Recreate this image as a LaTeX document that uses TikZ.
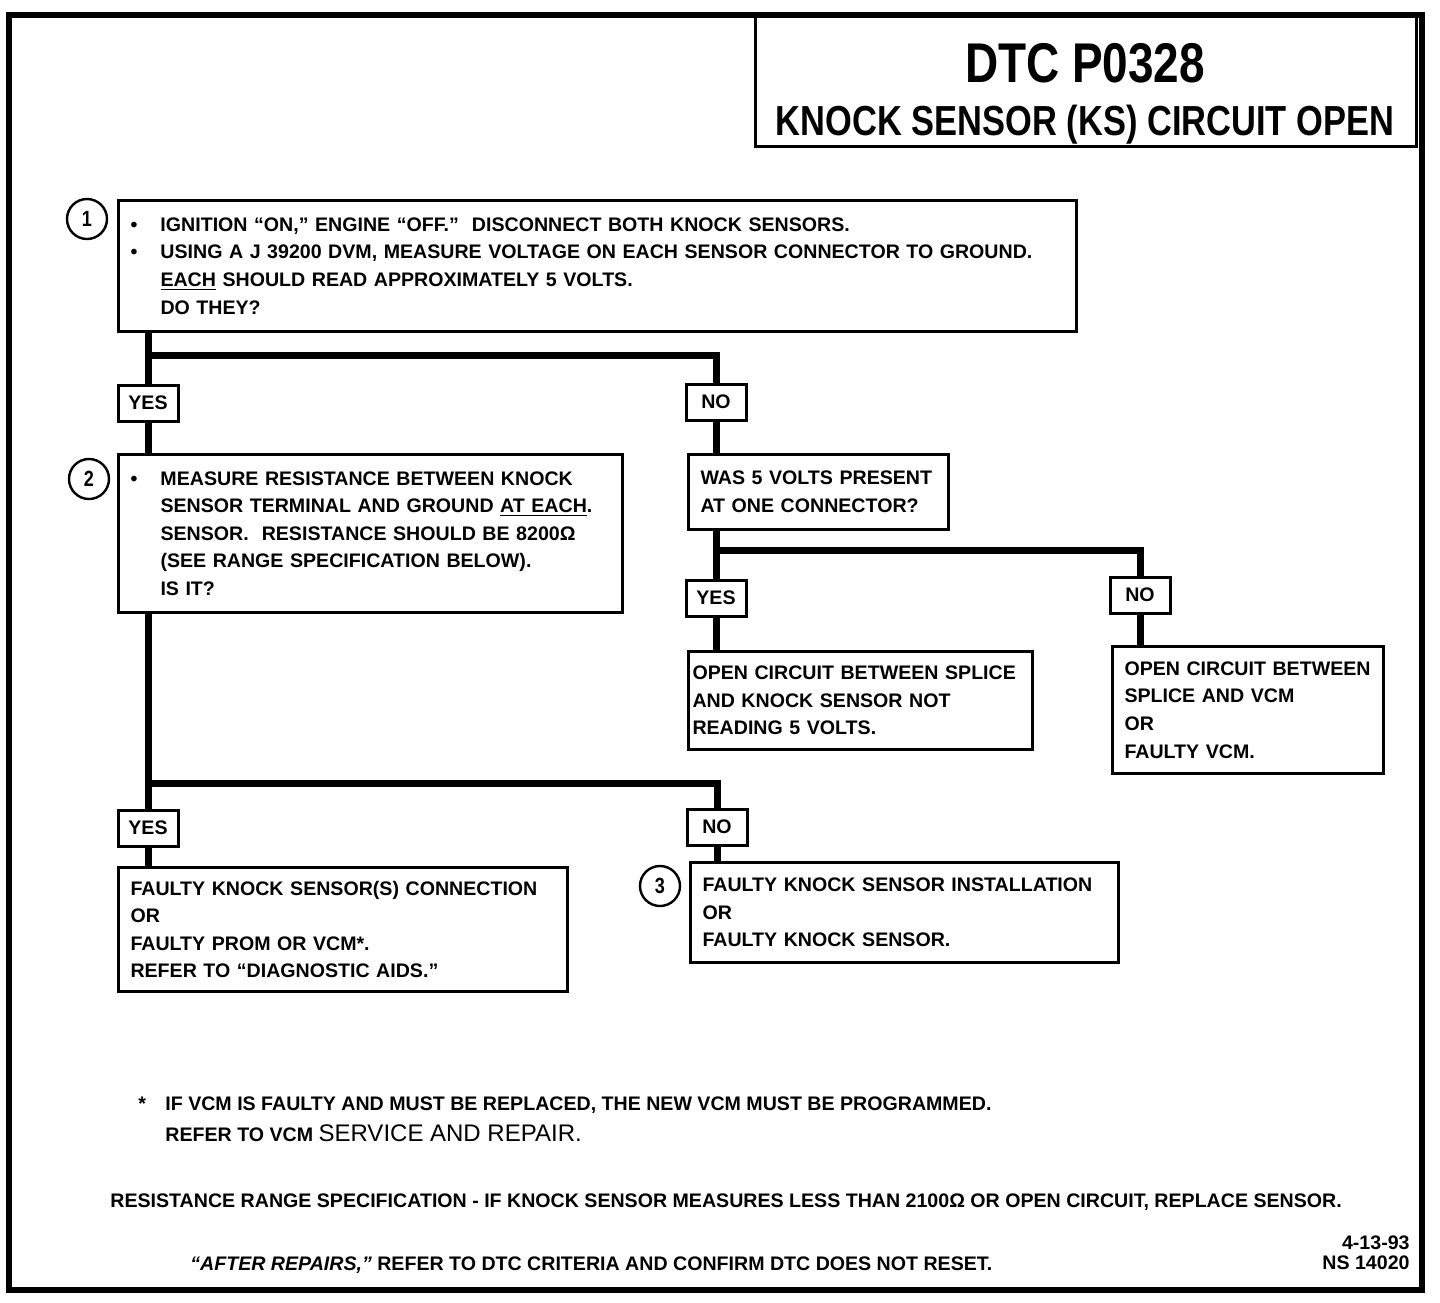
\documentclass[tikz,border=0pt]{standalone}
\usepackage{fontspec}
\setmainfont{Liberation Sans}
\newfontfamily\dtcfont{Liberation Sans}
\newfontfamily\titlefont[FakeStretch=0.82]{Liberation Sans}
\usetikzlibrary{positioning,calc}

\begin{document}
\begin{tikzpicture}[x = .5pt, y = -.5pt,
    stepbox/.style = {draw, line width = 1.5pt, anchor = north west, align = left,
      inner xsep = 6pt, inner ysep = 0pt, font = \dtcfont\bfseries\fontsize{9.8}{13.8}\selectfont},
    answer/.style = {draw, line width = 1.5pt, fill = white, minimum width = 30pt,
      minimum height = 18pt, inner sep = 0pt, font = \dtcfont\bfseries\fontsize{9.8}{12}\selectfont},
    stepnum/.style = {circle, draw, line width = 1.2pt, minimum size = 20pt, inner sep = 0pt,
      font = \titlefont\bfseries\fontsize{11}{12}\selectfont},
    wire/.style = {line width = 3.5pt},
    note/.style = {anchor = base west, inner sep = 0pt, font = \dtcfont\bfseries\fontsize{9.8}{12}\selectfont}]
    \useasboundingbox (0,0) rectangle (1440,1302);
    % frame and title
    \draw[line width = 3pt] (9,15) rectangle (1422,1290);
    \draw[line width = 1.5pt] (755,15) rectangle (1416,146);
    \node[anchor = base, inner sep = 0pt, font = \titlefont\bfseries\fontsize{28}{30}\selectfont] (dtc) at (1085,82) {DTC P0328};
    \node[anchor = base, inner sep = 0pt, font = \titlefont\bfseries\fontsize{21}{24}\selectfont] (ksopen) at (1085,135) {KNOCK SENSOR (KS) CIRCUIT OPEN};
    % steps
    \node[stepbox, minimum width = 479pt, minimum height = 65.5pt, text width = 467pt] (check) at (117,199)
      {\makebox[15pt][l]{\textbullet}IGNITION “ON,” ENGINE “OFF.”\ \ DISCONNECT BOTH KNOCK SENSORS.\\
       \makebox[15pt][l]{\textbullet}USING A J 39200 DVM, MEASURE VOLTAGE ON EACH SENSOR CONNECTOR TO GROUND.\\
       \hspace*{15pt}\underline{EACH} SHOULD READ APPROXIMATELY 5 VOLTS.\\
       \hspace*{15pt}DO THEY?};
    \node[stepbox, minimum width = 252pt, minimum height = 79pt, text width = 240pt] (resist) at (117,453)
      {\makebox[15pt][l]{\textbullet}MEASURE RESISTANCE BETWEEN KNOCK\\
       \hspace*{15pt}SENSOR TERMINAL AND GROUND \underline{AT EACH}.\\
       \hspace*{15pt}SENSOR.\ \ RESISTANCE SHOULD BE 8200Ω\\
       \hspace*{15pt}(SEE RANGE SPECIFICATION BELOW).\\
       \hspace*{15pt}IS IT?};
    \node[stepbox, minimum width = 130pt, minimum height = 37.5pt, text width = 118pt] (onecon) at (687,453)
      {WAS 5 VOLTS PRESENT\\AT ONE CONNECTOR?};
    \node[stepbox, inner xsep = 2pt, minimum width = 172pt, minimum height = 49pt, text width = 168pt] (opensensor) at (687,650)
      {OPEN CIRCUIT BETWEEN SPLICE\\AND KNOCK SENSOR NOT\\READING 5 VOLTS.};
    \node[stepbox, minimum width = 135.5pt, minimum height = 63.5pt, text width = 123.5pt] (openvcm) at (1111,645)
      {OPEN CIRCUIT BETWEEN\\SPLICE AND VCM\\OR\\FAULTY VCM.};
    \node[stepbox, minimum width = 224.5pt, minimum height = 62pt, text width = 212.5pt] (faultyconn) at (117,866)
      {FAULTY KNOCK SENSOR(S) CONNECTION\\OR\\FAULTY PROM OR VCM*.\\REFER TO “DIAGNOSTIC AIDS.”};
    \node[stepbox, minimum width = 214pt, minimum height = 50pt, text width = 202pt] (faultyinst) at (689,861)
      {FAULTY KNOCK SENSOR INSTALLATION\\OR\\FAULTY KNOCK SENSOR.};
    % step numbers
    \node[stepnum] (numa) at (87,219) {1};
    \node[stepnum] (numb) at (89,479) {2};
    \node[stepnum] (numc) at (660,886) {3};
    % answers
    \node[answer] (yesa) at (148,403) {YES};
    \node[answer] (noa) at (716,402) {NO};
    \node[answer] (yesb) at (716,598) {YES};
    \node[answer] (nob) at (1140,595) {NO};
    \node[answer] (yesc) at (148,828) {YES};
    \node[answer] (noc) at (717,827) {NO};
    \coordinate (splita) at (148,355);
    \coordinate (splitb) at (716,550);
    \coordinate (splitc) at (148,783);
    % wires
    \draw[wire] (yesa |- check.south) -- (yesa.north);
    \draw[wire] (yesa.south) -- (yesa |- resist.north);
    \draw[wire] (splita) -| (noa.north);
    \draw[wire] (noa.south) -- (noa |- onecon.north);
    \draw[wire] (yesb |- onecon.south) -- (yesb.north);
    \draw[wire] (yesb.south) -- (yesb |- opensensor.north);
    \draw[wire] (splitb) -| (nob.north);
    \draw[wire] (nob.south) -- (nob |- openvcm.north);
    \draw[wire] (yesc |- resist.south) -- (yesc.north);
    \draw[wire] (yesc.south) -- (yesc |- faultyconn.north);
    \draw[wire] (splitc) -| (noc.north);
    \draw[wire] (noc.south) -- (noc |- faultyinst.north);
    % notes
    \node[note] (star) at (138,1110) {*};
    \node[note] (vcmnote) at (165,1110) {IF VCM IS FAULTY AND MUST BE REPLACED, THE NEW VCM MUST BE PROGRAMMED.};
    \node[note] (vcmref) at (165,1141) {REFER TO VCM {\normalfont\fontsize{12}{14}\selectfont SERVICE AND REPAIR.}};
    \node[note] (range) at (110,1207) {RESISTANCE RANGE SPECIFICATION - IF KNOCK SENSOR MEASURES LESS THAN 2100Ω OR OPEN CIRCUIT, REPLACE SENSOR.};
    \node[note] (after) at (190,1270) {\textit{“AFTER REPAIRS,”} REFER TO DTC CRITERIA AND CONFIRM DTC DOES NOT RESET.};
    \node[note, anchor = base east] (date) at (1410,1249) {4-13-93};
    \node[note, anchor = base east] (nsnum) at (1410,1269) {NS 14020};
\end{tikzpicture}
\end{document}
